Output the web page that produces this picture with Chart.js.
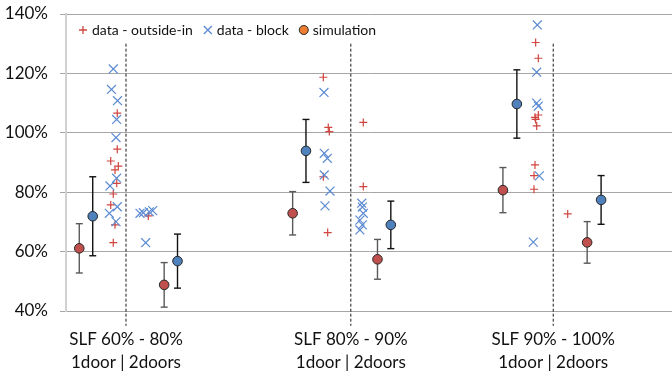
<!DOCTYPE html>
<html><head><meta charset="utf-8">
<script src="https://cdn.jsdelivr.net/npm/chart.js@4.4.1/dist/chart.umd.min.js"></script>
<style>html,body{margin:0;padding:0;background:#fff;overflow:hidden}canvas{display:block}</style>
</head><body><canvas id="c" width="672" height="378"></canvas>
<script>
// ---- categories / ticks ----
const categories = [['SLF 60% - 80%','1door | 2doors'],['SLF 80% - 90%','1door | 2doors'],['SLF 90% - 100%','1door | 2doors']];
const dividerX = [9.9, 47.0, 80.4];
const dividerRange = [130, 35];
const yTicks = [40, 60, 80, 100, 120, 140];

// ---- measured data: outside-in ----
const outsideInX = [8.46, 8.46, 7.38, 8.63, 8.09, 8.37, 7.8, 7.38, 8.09, 7.8,
                    13.58,
                    42.46, 43.28, 43.45, 42.46, 43.18,
                    49.06, 49.06,
                    77.5, 77.94, 77.39, 77.94, 77.5, 77.67, 77.39, 77.23, 77.23,
                    82.79];
const outsideInY = [106.6, 94.5, 90.5, 88.8, 87.5, 83.0, 79.4, 75.7, 69.0, 63.0,
                    72.0,
                    118.7, 101.8, 100.4, 85.2, 66.4,
                    103.5, 81.9,
                    130.4, 125.1, 105.2, 106.0, 104.5, 102.3, 89.2, 85.6, 81.0,
                    72.7];

// ---- measured data: block ----
const blockX = [7.8, 7.5, 8.5, 8.35, 8.25, 8.35, 7.26, 8.46, 7.15, 8.25,
                12.21, 12.76, 13.75, 14.31, 13.15,
                42.57, 42.62, 43.12, 42.62, 43.56, 42.74,
                48.8, 48.9, 49.06, 48.5, 48.9, 48.5,
                77.77, 77.67, 77.67, 77.94, 78.1, 77.11];
const blockY = [121.5, 114.6, 110.8, 104.5, 98.4, 84.7, 82.1, 75.1, 72.9, 70.1,
                72.9, 73.1, 73.4, 73.8, 63.0,
                113.6, 93.1, 91.4, 85.8, 80.4, 75.4,
                76.3, 75.0, 72.9, 70.6, 69.0, 67.3,
                136.3, 120.4, 110.0, 109.0, 85.5, 63.2];

// ---- simulation (mean and error) ----
const simOutsideInX = [2.19, 16.2, 37.4, 51.4, 72.1, 86.0];
const simOutsideInY = [61.1, 48.8, 72.9, 57.4, 80.7, 63.1];
const simOutsideInErr = [8.3, 7.5, 7.3, 6.7, 7.6, 7.0];
const simBlockX = [4.41, 18.4, 39.6, 53.6, 74.4, 88.3];
const simBlockY = [71.9, 56.8, 93.9, 69.0, 109.7, 77.4];
const simBlockErr = [13.3, 9.1, 10.6, 8.0, 11.5, 8.2];

const RED_MARK = '#d0453f', BLUE_MARK = '#5b8ad2';
const RED_SIM = '#c0504d', BLUE_SIM = '#4f81bd', SIM_LEGEND = '#ed7d31';
const FONT = 'Lato, "Open Sans", sans-serif';

const pts = (xs, ys) => xs.map((x, i) => ({x, y: ys[i]}));

const datasets = [];
// dividers
dividerX.forEach(x => datasets.push({
  data: [{x, y: dividerRange[0]}, {x, y: dividerRange[1]}],
  showLine: true, borderColor: '#1a1a1a', borderWidth: 1, borderDash: [3, 2],
  pointRadius: 0, clip: false, order: 5
}));
// error bars
function errBars(xs, ys, es, color) {
  xs.forEach((x, i) => datasets.push({
    data: [{x, y: ys[i] - es[i]}, {x, y: ys[i] + es[i]}],
    showLine: true, borderColor: color, borderWidth: 1.4,
    pointStyle: 'line', pointRadius: 3.5, pointBorderColor: color, pointBorderWidth: 1.4,
    order: 4
  }));
}
errBars(simOutsideInX, simOutsideInY, simOutsideInErr, '#595959');
errBars(simBlockX, simBlockY, simBlockErr, '#111111');
// data points
datasets.push({label: 'data - outside-in', data: pts(outsideInX, outsideInY), pointStyle: 'cross',
  pointRadius: 4, pointBorderColor: RED_MARK, pointBorderWidth: 1.2, order: 3});
datasets.push({label: 'data - block', data: pts(blockX, blockY), pointStyle: 'crossRot',
  pointRadius: 6.3, pointBorderColor: BLUE_MARK, pointBorderWidth: 1.2, order: 2});
// simulation
datasets.push({label: 'simulation outside-in', data: pts(simOutsideInX, simOutsideInY), pointStyle: 'circle',
  pointRadius: 4.8, pointBackgroundColor: RED_SIM, pointBorderColor: '#262626', pointBorderWidth: 1, order: 1});
datasets.push({label: 'simulation block', data: pts(simBlockX, simBlockY), pointStyle: 'circle',
  pointRadius: 4.8, pointBackgroundColor: BLUE_SIM, pointBorderColor: '#262626', pointBorderWidth: 1, order: 1});

const legendItems = [
  {label: 'data - outside-in', style: 'cross', color: RED_MARK},
  {label: 'data - block', style: 'crossRot', color: BLUE_MARK},
  {label: 'simulation', style: 'circle', color: SIM_LEGEND}
];
const insideLegend = {
  id: 'insideLegend',
  afterDraw(chart) {
    const ctx = chart.ctx, a = chart.chartArea;
    let x = a.left + 17; const y = a.top + 16;
    ctx.save();
    ctx.font = '14px ' + FONT; ctx.textBaseline = 'middle'; ctx.textAlign = 'left';
    legendItems.forEach(it => {
      ctx.beginPath();
      ctx.lineWidth = 1.3; ctx.strokeStyle = it.color;
      if (it.style === 'cross') {
        ctx.moveTo(x - 4, y); ctx.lineTo(x + 4, y); ctx.moveTo(x, y - 4); ctx.lineTo(x, y + 4); ctx.stroke();
      } else if (it.style === 'crossRot') {
        ctx.moveTo(x - 4, y - 4); ctx.lineTo(x + 4, y + 4); ctx.moveTo(x - 4, y + 4); ctx.lineTo(x + 4, y - 4); ctx.stroke();
      } else {
        ctx.arc(x, y, 4.5, 0, Math.PI * 2); ctx.fillStyle = it.color; ctx.fill();
        ctx.lineWidth = 1; ctx.strokeStyle = '#262626'; ctx.stroke();
      }
      ctx.fillStyle = '#111';
      ctx.fillText(it.label, x + 9, y + 0.5);
      x += 9 + ctx.measureText(it.label).width + 15;
    });
    ctx.restore();
  }
};

const noPad = s => { s.paddingTop = 0; s.paddingBottom = 0; s.paddingLeft = 0; s.paddingRight = 0; };

new Chart(document.getElementById('c'), {
  type: 'scatter',
  data: {datasets},
  plugins: [insideLegend],
  options: {
    responsive: false, animation: false, events: [],
    devicePixelRatio: 1,
    layout: {autoPadding: false, padding: {top: 14, right: 0, left: 0, bottom: 0}},
    plugins: {legend: {display: false}, tooltip: {enabled: false}},
    scales: {
      x: {
        type: 'linear', min: 0, max: 100,
        afterBuildTicks: s => { s.ticks = dividerX.map(v => ({value: v})); },
        afterFit: s => { s.height = 67; noPad(s); },
        grid: {display: false, drawTicks: false},
        border: {display: true, color: '#a6a6a6', width: 1},
        ticks: {autoSkip: false, maxRotation: 0, padding: 17, color: '#111',
          font: {family: FONT, size: 17, lineHeight: 1.35},
          callback: (v, i) => categories[i]}
      },
      y: {
        type: 'linear', min: 40, max: 140,
        afterBuildTicks: s => { s.ticks = yTicks.map(v => ({value: v})); },
        afterFit: s => { s.width = 66; noPad(s); },
        grid: {color: '#a6a6a6', lineWidth: 1, tickLength: 6, drawTicks: true},
        border: {display: true, color: '#d0d0d0', width: 2},
        ticks: {padding: 12, color: '#111', font: {family: FONT, size: 17},
          callback: v => v + '%'}
      }
    }
  }
});
</script></body></html>
